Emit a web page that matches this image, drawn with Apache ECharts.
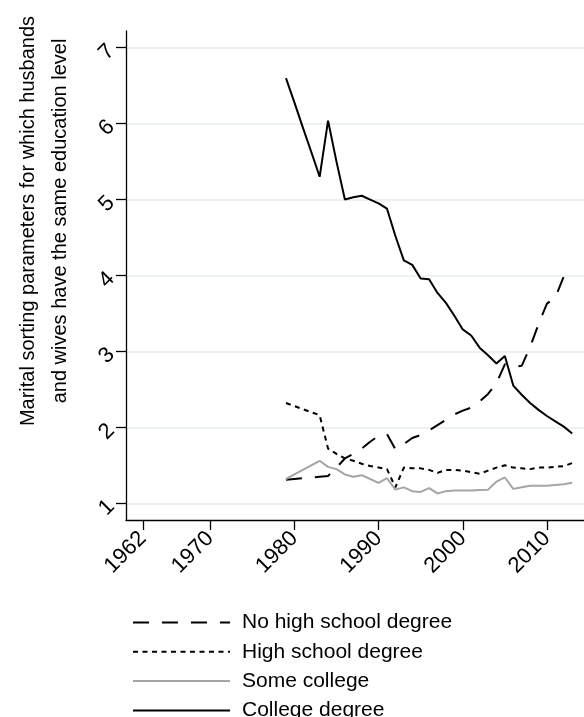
<!DOCTYPE html>
<html>
<head>
<meta charset="utf-8">
<script src="https://cdn.jsdelivr.net/npm/echarts@6/dist/echarts.min.js"></script>
<style>
html,body{margin:0;padding:0;background:#fff;}
#c{width:584px;height:717px;}
</style>
</head>
<body>
<div id="c"></div>
<script>
const years = [1979,1980,1981,1982,1983,1984,1985,1986,1987,1988,1989,1990,1991,1992,1993,1994,1995,1996,1997,1998,1999,2000,2001,2002,2003,2004,2005,2006,2007,2008,2009,2010,2011,2012,2013];
const noHighSchool = [1.31,1.32,1.33,1.34,1.35,1.36,1.47,1.59,1.65,1.72,1.81,1.89,1.91,1.71,1.78,1.86,1.90,1.96,2.03,2.10,2.17,2.22,2.26,2.34,2.44,2.58,2.83,2.80,2.81,3.06,3.36,3.63,3.71,3.99,4.10];
const highSchool = [2.32,2.28,2.24,2.20,2.16,1.72,1.65,1.59,1.56,1.52,1.49,1.47,1.45,1.21,1.47,1.46,1.46,1.44,1.40,1.44,1.44,1.43,1.41,1.39,1.43,1.47,1.50,1.47,1.46,1.45,1.47,1.47,1.48,1.49,1.53];
const someCollege = [1.32,1.38,1.44,1.50,1.56,1.48,1.45,1.38,1.35,1.37,1.32,1.27,1.33,1.18,1.21,1.16,1.15,1.20,1.13,1.16,1.17,1.17,1.17,1.175,1.18,1.285,1.34,1.19,1.21,1.23,1.23,1.23,1.24,1.25,1.27];
const college = [6.60,6.28,5.95,5.63,5.30,6.04,5.50,5.00,5.03,5.05,5.00,4.95,4.88,4.52,4.20,4.14,3.96,3.95,3.77,3.64,3.47,3.29,3.21,3.05,2.95,2.84,2.94,2.55,2.43,2.32,2.23,2.15,2.08,2.01,1.92];
const xTicks = [1962,1970,1980,1990,2000,2010];
const yTicks = [1,2,3,4,5,6,7];
const seriesNames = ['No high school degree','High school degree','Some college','College degree'];
const yTitle = 'Marital sorting parameters for which husbands\nand wives have the same education level';

const FONT = '"Liberation Sans", Arial, sans-serif';
const pair = arr => years.map((y,i)=>[y,arr[i]]);

const chart = echarts.init(document.getElementById('c'), null, {renderer:'canvas'});
chart.setOption({
  animation:false,
  backgroundColor:'#ffffff',
  textStyle:{fontFamily:FONT},
  grid:{left:126,top:31,right:0,bottom:197,containLabel:false},
  xAxis:{
    type:'value', min:1960, max:2014.4,
    axisLine:{show:true,onZero:false,lineStyle:{color:'#000',width:1.3}},
    axisTick:{show:true,length:10,customValues:xTicks,lineStyle:{color:'#000',width:1.3}},
    axisLabel:{show:true,customValues:xTicks,rotate:45,margin:15,fontSize:22,color:'#000',fontFamily:FONT,formatter:v=>String(v)},
    splitLine:{show:false}
  },
  yAxis:{
    type:'value', min:0.78, max:7.22,
    axisLine:{show:true,onZero:false,lineStyle:{color:'#000',width:1.3}},
    axisTick:{show:true,length:10,customValues:yTicks,lineStyle:{color:'#000',width:1.3}},
    axisLabel:{show:true,customValues:yTicks,rotate:45,margin:15,fontSize:22,color:'#000',fontFamily:FONT,formatter:v=>String(v)},
    splitLine:{show:true,customValues:yTicks,lineStyle:{color:'#e6eef1',width:1.5}}
  },
  legend:{
    orient:'vertical', left:132, top:612, height:110, padding:0,
    itemWidth:97, itemHeight:20, itemGap:8.3,
    data:seriesNames,
    itemStyle:{opacity:0},
    textStyle:{fontSize:21,color:'#000',fontFamily:FONT,padding:[0,0,0,7]}
  },
  graphic:[{
    type:'text', x:44, y:221, rotation:Math.PI/2,
    style:{text:yTitle,font:'20px "Liberation Sans", Arial, sans-serif',fill:'#000',align:'center',verticalAlign:'middle',lineHeight:32}
  }],
  series:[
    {name:seriesNames[0],type:'line',data:pair(noHighSchool),symbol:'none',lineStyle:{color:'#000',width:2,type:[16,13]},itemStyle:{color:'#000'}},
    {name:seriesNames[1],type:'line',data:pair(highSchool),symbol:'none',lineStyle:{color:'#000',width:2,type:[5,4.5]},itemStyle:{color:'#000'}},
    {name:seriesNames[2],type:'line',data:pair(someCollege),symbol:'none',lineStyle:{color:'#a5a5a5',width:2},itemStyle:{color:'#a5a5a5'}},
    {name:seriesNames[3],type:'line',data:pair(college),symbol:'none',lineStyle:{color:'#000',width:2},itemStyle:{color:'#000'}}
  ]
});
</script>
</body>
</html>
